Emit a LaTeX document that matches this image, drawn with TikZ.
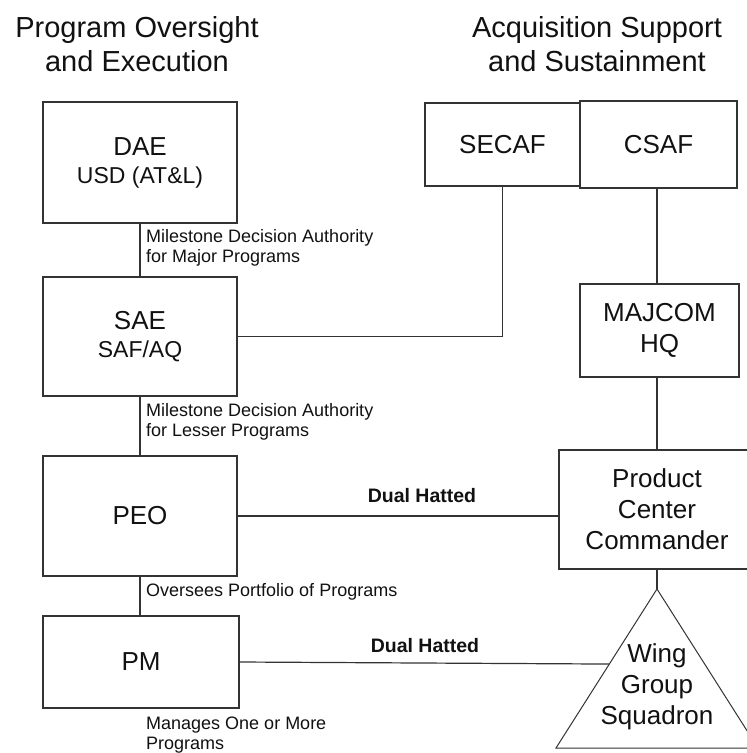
\documentclass[tikz,border=0pt]{standalone}
\usepackage{fontspec}
\setmainfont{Liberation Sans}
\usetikzlibrary{calc}
\definecolor{linegray}{HTML}{333333}
\definecolor{txt}{HTML}{111111}
\tikzset{
  box/.style={draw=linegray, line width=1.3pt, rectangle, inner sep=0pt, align=center, text=txt,
    font=\fontsize{26}{31}\selectfont},
  conn/.style={draw=linegray, line width=1.2pt},
  lbl/.style={font=\fontsize{18}{20}\selectfont, align=left, anchor=west, inner sep=0pt, text=txt},
  dual/.style={font=\bfseries\fontsize{19.5}{22}\selectfont, inner sep=0pt, text=txt},
  title/.style={font=\fontsize{29}{34}\selectfont, align=center, inner sep=0pt, text=txt}
}
\newcommand{\subl}[1]{{\fontsize{23}{26}\selectfont #1}}
\begin{document}
\begin{tikzpicture}[x=1pt,y=-1pt]
\useasboundingbox (0,0) rectangle (747,753);
\clip (0,0) rectangle (747,753);
% titles
\node[title] (t1) at (137,44) {Program Oversight\\and Execution};
\node[title] (t2) at (597,44) {Acquisition Support\\and Sustainment};
% left column
\node[box, minimum width=194pt, minimum height=121pt] (DAE) at (140,162.5) {DAE\\[-3pt]\subl{USD (AT\&L)}};
\node[box, minimum width=194pt, minimum height=119pt] (SAE) at (140,336.5) {SAE\\[-3pt]\subl{SAF/AQ}};
\node[box, minimum width=194pt, minimum height=120pt] (PEO) at (140,516) {PEO};
\node[box, minimum width=196pt, minimum height=92pt] (PM) at (141,662) {PM};
% right column
\node[box, minimum width=155pt, minimum height=83pt] (SECAF) at (502.5,144.5) {SECAF};
\node[box, minimum width=157pt, minimum height=87pt] (CSAF) at (658.5,144.5) {CSAF};
\node[box, minimum width=159pt, minimum height=93pt] (MAJ) at (659.5,330.5) {MAJCOM\\HQ};
\node[box, minimum width=196pt, minimum height=119pt] (PCC) at (657,509.5) {Product\\Center\\Commander};
% triangle
\coordinate (apex) at (657,589);
\coordinate (bl) at (556,748);
\coordinate (br) at (758,748);
\draw[draw=linegray, line width=1pt] (apex) -- (bl) -- (br) -- cycle;
\node[align=center, inner sep=0pt, text=txt, font=\fontsize{26}{31}\selectfont] (wing) at (657,687) {Wing\\Group\\Squadron};
\coordinate (trileft) at ($(apex)!0.472!(bl)$);
% connectors
\draw[conn] (DAE.south) -- (SAE.north);
\draw[conn] (SAE.south) -- (PEO.north);
\draw[conn] (PEO.south) -- (PEO.south |- PM.north);
\draw[conn] (SECAF.south) -- (SECAF.south |- SAE.east) -- (SAE.east);
\draw[conn] (PCC.north |- CSAF.south) -- (PCC.north |- MAJ.north);
\draw[conn] (PCC.north |- MAJ.south) -- (PCC.north);
\draw[conn] (PEO.east) -- (PEO.east -| PCC.west);
\draw[conn] (PCC.south) -- (apex);
\draw[conn] (PM.east) -- (trileft);
% labels
\node[lbl] (l1) at (146,248) {Milestone Decision Authority\\for Major Programs};
\node[lbl] (l2) at (146,422) {Milestone Decision Authority\\for Lesser Programs};
\node[lbl] (l3) at (146,592) {Oversees Portfolio of Programs};
\node[lbl] (l4) at (146,735) {Manages One or More\\Programs};
\node[dual] (d1) at (422,496) {Dual Hatted};
\node[dual] (d2) at (425,646) {Dual Hatted};
\end{tikzpicture}
\end{document}
